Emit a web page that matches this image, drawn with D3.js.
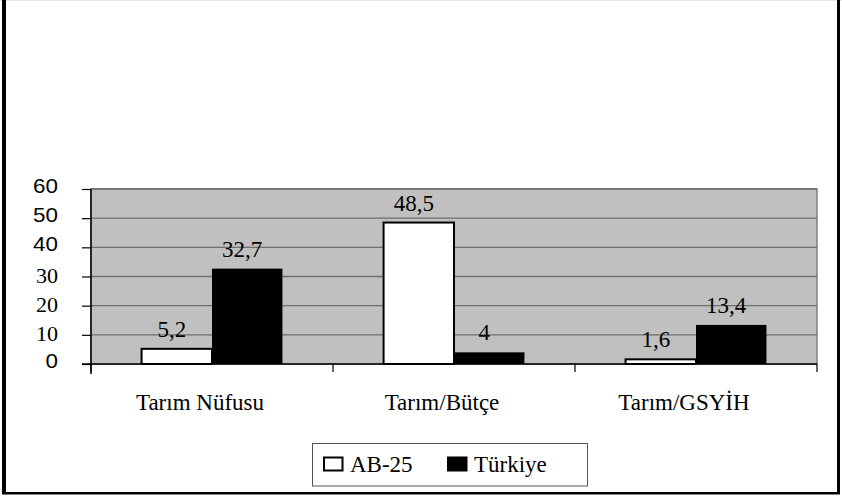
<!DOCTYPE html>
<html>
<head>
<meta charset="utf-8">
<script src="https://cdn.jsdelivr.net/npm/d3@7"></script>
<style>
  html, body { margin: 0; padding: 0; background: #fff; }
  svg { display: block; }
</style>
</head>
<body>
<svg id="chart" width="842" height="497"></svg>
<script>
const categories = ["Tarım Nüfusu", "Tarım/Bütçe", "Tarım/GSYİH"];
const seriesNames = ["AB-25", "Türkiye"];
const ab25 = [5.2, 48.5, 1.6];
const turkiye = [32.7, 4, 13.4];
const valueLabels = [["5,2", "48,5", "1,6"], ["32,7", "4", "13,4"]];
const yTicks = [0, 10, 20, 30, 40, 50, 60];
const sansTicks = [0, 40, 50, 60];

(function () {
const series = [ab25, turkiye];
const fills = ["#ffffff", "#000000"];
const svg = d3.select("#chart");
const serif = '"Liberation Serif", "Times New Roman", serif';
const sans = '"Liberation Sans", Arial, sans-serif';

// outer frame
svg.append("rect").attr("x", 0).attr("y", 0).attr("width", 842).attr("height", 1).attr("fill", "#e6e6e6");
svg.append("rect").attr("x", 2).attr("y", 0).attr("width", 4).attr("height", 494).attr("fill", "#000");
svg.append("rect").attr("x", 837).attr("y", 0).attr("width", 3).attr("height", 494).attr("fill", "#000");
svg.append("rect").attr("x", 2).attr("y", 492).attr("width", 838).attr("height", 2.5).attr("fill", "#000");

const pL = 91, pR = 817, pT = 189, pB = 364;
const x0 = d3.scaleBand().domain(categories).range([pL, pR]).padding(0);
const bw = x0.bandwidth();
const x1 = d3.scaleBand().domain(seriesNames).range([bw * 0.209, bw * 0.791]).padding(0);
const y = d3.scaleLinear().domain([0, 60]).range([pB, pT]);

// plot background
svg.append("rect").attr("x", pL).attr("y", pT).attr("width", pR - pL).attr("height", pB - pT)
  .attr("fill", "#c0c0c0").attr("stroke", "#808080").attr("stroke-width", 1.5);

// gridlines
svg.append("g").selectAll("line").data(yTicks.filter(t => t > 0)).join("line")
  .attr("x1", pL).attr("x2", pR).attr("y1", d => y(d)).attr("y2", d => y(d))
  .attr("stroke", "#6e6e6e").attr("stroke-width", 1.4);

// y axis
const yAxis = svg.append("g").attr("transform", `translate(${pL},0)`)
  .call(d3.axisLeft(y).tickValues(yTicks).tickSize(9).tickFormat(""));
yAxis.select(".domain").attr("stroke", "#000").attr("stroke-width", 1.5).attr("d", `M0,${pT}V${pB + 10}`);
yAxis.selectAll(".tick line").attr("stroke", "#000").attr("stroke-width", 1.2);

// y tick labels
svg.append("g").selectAll("text").data(yTicks).join("text")
  .attr("transform", d => {
    const isSans = sansTicks.includes(d);
    const by = y(d) + (isSans ? 4 : 6.5);
    return `translate(58,${by}) scale(${isSans ? 1.12 : 1.05},1)`;
  })
  .attr("text-anchor", "end")
  .style("font-family", d => sansTicks.includes(d) ? sans : serif)
  .style("font-size", d => (sansTicks.includes(d) ? 20 : 21) + "px")
  .attr("fill", "#000")
  .text(d => d);

// bars
const groups = svg.append("g").selectAll("g").data(categories).join("g")
  .attr("transform", c => `translate(${x0(c)},0)`);
groups.selectAll("rect").data((c, i) => series.map((s, k) => ({k, v: s[i], i}))).join("rect")
  .attr("x", d => x1(seriesNames[d.k]))
  .attr("width", x1.bandwidth())
  .attr("y", d => y(d.v))
  .attr("height", d => y(0) - y(d.v))
  .attr("fill", d => fills[d.k])
  .attr("stroke", "#000").attr("stroke-width", d => d.k === 0 ? 2 : 0);

// value labels
groups.selectAll("text").data((c, i) => series.map((s, k) => ({k, v: s[i], i}))).join("text")
  .attr("x", d => x1(seriesNames[d.k]) + x1.bandwidth() / 2 - 5)
  .attr("y", d => y(d.v) - 12)
  .attr("text-anchor", "middle")
  .style("font-family", serif).style("font-size", "23px").attr("fill", "#000")
  .text(d => valueLabels[d.k][d.i]);

// x axis
const xAxis = svg.append("g").attr("transform", `translate(0,${pB})`)
  .call(d3.axisBottom(x0).tickSize(0).tickFormat(""));
xAxis.select(".domain").attr("stroke", "#000").attr("stroke-width", 1.5).attr("d", `M${pL - 9},0H${pR}`);
xAxis.selectAll(".tick").remove();
svg.append("g").selectAll("line").data(d3.range(categories.length + 1)).join("line")
  .attr("x1", i => pL + i * bw).attr("x2", i => pL + i * bw)
  .attr("y1", pB).attr("y2", pB + 8)
  .attr("stroke", "#000").attr("stroke-width", 1.2);

// category labels
svg.append("g").selectAll("text").data(categories).join("text")
  .attr("x", c => x0(c) + bw / 2 - 12)
  .attr("y", 410)
  .attr("text-anchor", "middle")
  .style("font-family", serif).style("font-size", "23px").attr("fill", "#000")
  .text(c => c);

// legend
const lg = svg.append("g");
lg.append("rect").attr("x", 312.5).attr("y", 443.5).attr("width", 275).attr("height", 42.5)
  .attr("fill", "#fff").attr("stroke", "#555").attr("stroke-width", 1);
const legendX = [324, 448];
seriesNames.forEach((name, k) => {
  lg.append("rect").attr("x", legendX[k]).attr("y", 457.5).attr("width", 18.5).attr("height", 13)
    .attr("fill", fills[k]).attr("stroke", "#000").attr("stroke-width", 2);
  lg.append("text").attr("x", legendX[k] + 26).attr("y", 471.5)
    .style("font-family", serif).style("font-size", "23px").attr("fill", "#000").text(name);
});
})();
</script>
</body>
</html>
